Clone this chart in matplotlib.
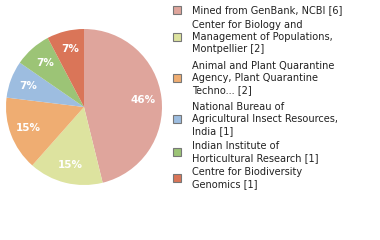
import matplotlib as mpl
mpl.use("Agg")
import matplotlib.pyplot as plt
from matplotlib.patches import Rectangle

# data
labels = ["Mined from GenBank, NCBI [6]",
          "Center for Biology and\nManagement of Populations,\nMontpellier [2]",
          "Animal and Plant Quarantine\nAgency, Plant Quarantine\nTechno... [2]",
          "National Bureau of\nAgricultural Insect Resources,\nIndia [1]",
          "Indian Institute of\nHorticultural Research [1]",
          "Centre for Biodiversity\nGenomics [1]"]
counts = [6, 2, 2, 1, 1, 1]
colors = ["#dfa59c", "#dde39f", "#efad72", "#9dbde0", "#9cc476", "#da7558"]

W, H = 380, 240
fig = plt.figure(figsize=(W / 100, H / 100), dpi=100)

# pie: centre (84,107) px from top, radius 78 px
cx, cy, r = 84, 107, 78
ax = fig.add_axes([(cx - r) / W, (H - cy - r) / H, 2 * r / W, 2 * r / H])
wedges, texts, autotexts = ax.pie(counts, colors=colors, startangle=90,
                                  counterclock=False,
                                  autopct=lambda p: "%d%%" % int(p),
                                  pctdistance=0.76,
                                  wedgeprops=dict(linewidth=0))
for t in autotexts:
    t.set_color("white")
    t.set_fontsize(7.5)
    t.set_fontweight("bold")
ax.set_xlim(-1, 1)
ax.set_ylim(-1, 1)
ax.axis("off")

# legend drawn by hand
sq_y = [10, 37, 78, 119, 152, 178]   # square centres, px from top
for lab, col, y in zip(labels, colors, sq_y):
    fig.patches.append(Rectangle((173 / W, (H - y - 4) / H), 8 / W, 8 / H,
                                 transform=fig.transFigure, facecolor=col,
                                 edgecolor="#777777", linewidth=0.8))
    fig.text(192 / W, (H - y) / H, lab, fontsize=7.8, color="#222222",
             va="center", ha="left", linespacing=1.3,
             fontstretch="condensed")

fig.savefig("out.png", dpi=100)
